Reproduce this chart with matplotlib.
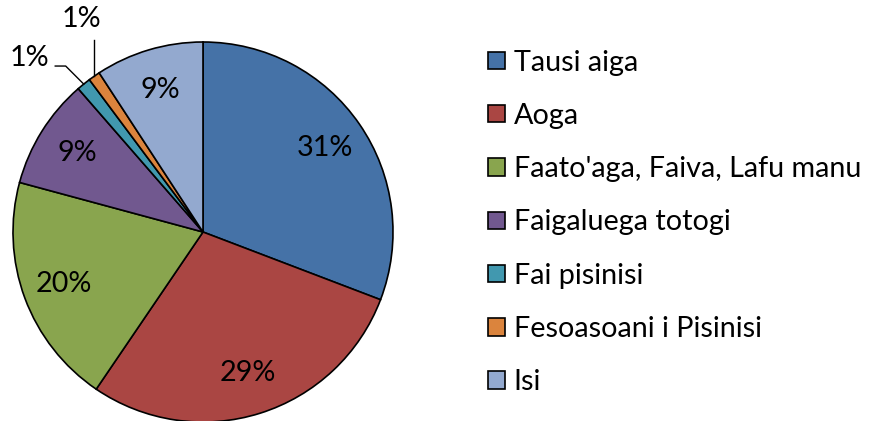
import numpy as np
import matplotlib
matplotlib.use("Agg")
import matplotlib.pyplot as plt

plt.rcParams['font.family'] = ['Lato', 'DejaVu Sans']

# dane
labels = ["Tausi aiga", "Aoga", "Faato'aga, Faiva, Lafu manu", "Faigaluega totogi",
          "Fai pisinisi", "Fesoasoani i Pisinisi", "Isi"]
values = [30.8, 28.7, 19.7, 9.4, 1.2, 1.0, 9.2]
colors = ["#4572A7", "#AA4643", "#89A54E", "#71588F", "#4198AF", "#DB843D", "#93A9CF"]

W, H = 876, 421
cx, cy, R = 203, 232, 190
fs = 20.7

fig = plt.figure(figsize=(W / 100, H / 100), dpi=100)
ax = fig.add_axes([(cx - R) / W, (H - cy - R) / H, 2 * R / W, 2 * R / H])


def pct_label(p):
    return "" if p < 2 else "%.0f%%" % p


wedges, texts, autotexts = ax.pie(values, colors=colors, startangle=90, counterclock=False,
                                  autopct=pct_label, pctdistance=0.78,
                                  wedgeprops=dict(edgecolor="black", linewidth=1.2),
                                  textprops=dict(fontsize=fs, color="black"))
ax.set_xlim(-1, 1)
ax.set_ylim(-1, 1)
ax.axis("off")

# male wycinki - etykiety na zewnatrz z liniami
total = sum(values)
for i, w in enumerate(wedges):
    if values[i] / total * 100 >= 2:
        continue
    mid = np.deg2rad((w.theta1 + w.theta2) / 2)
    ex, ey = np.cos(mid), np.sin(mid)
    txt = "%.0f%%" % (values[i] / total * 100)
    if i == 4:
        # linia: krawedz -> skos -> poziomo
        elbow = (ex - 0.095, ey + 0.095)
        end = (elbow[0] - 0.055, elbow[1])
        ax.plot([ex, elbow[0], end[0]], [ey, elbow[1], end[1]], color="black", lw=1, clip_on=False)
        ax.text(end[0] - 0.03, end[1] + 0.04, txt, ha="right", va="center", fontsize=fs)
    else:
        top = 1.01
        ax.plot([ex, ex], [ey, top], color="black", lw=1, clip_on=False)
        ax.text(ex - 0.07, top + 0.11, txt, ha="center", va="center", fontsize=fs)

fig.legend(wedges, labels, loc="upper left", bbox_to_anchor=(477 / W, 1 - 38 / H),
           frameon=False, fontsize=fs, handlelength=0.56, handleheight=0.56,
           handletextpad=0.32, labelspacing=0.95, borderaxespad=0)

plt.savefig("out.png", dpi=100)
